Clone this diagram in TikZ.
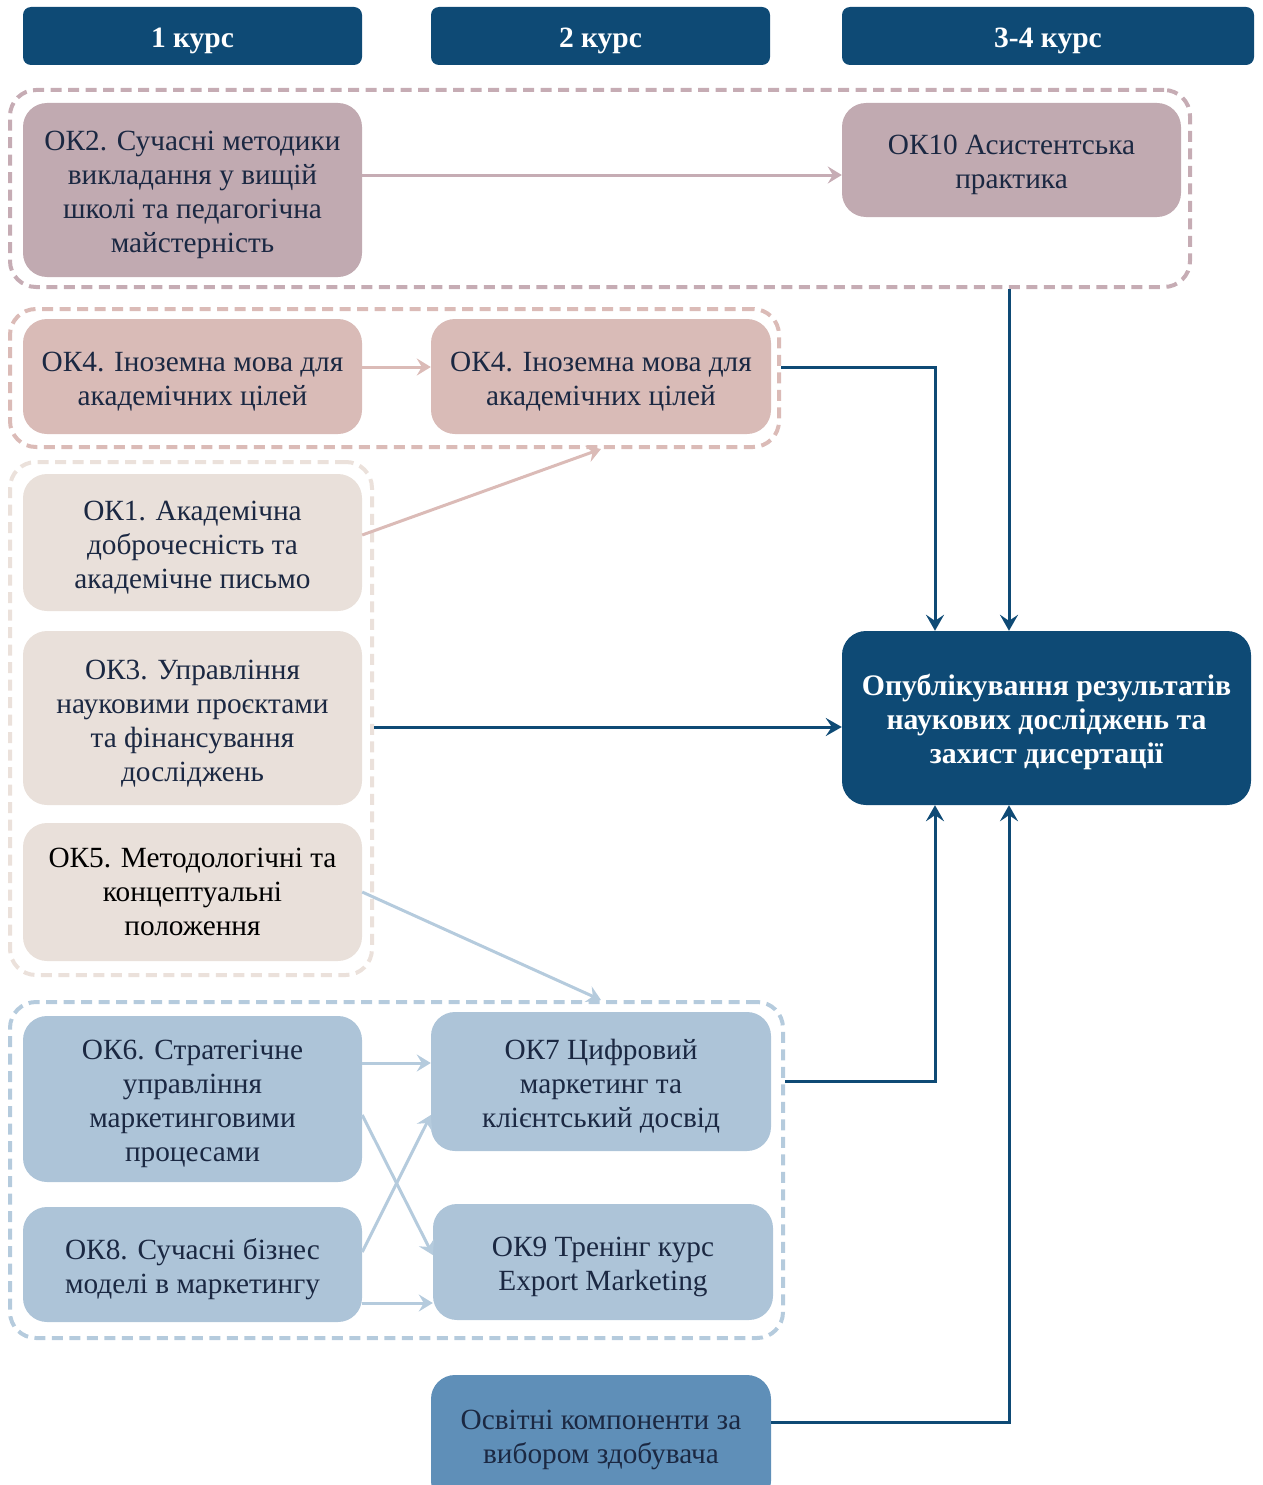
\documentclass[tikz,border=0pt]{standalone}
\usepackage{fontspec}
\setmainfont{Liberation Serif}
\usetikzlibrary{arrows.meta}
\definecolor{navy}{RGB}{14,74,117}
\definecolor{inktext}{RGB}{27,40,66}
\definecolor{mauvefill}{RGB}{193,170,177}
\definecolor{mauveline}{RGB}{198,172,180}
\definecolor{pinkfill}{RGB}{217,187,183}
\definecolor{pinkline}{RGB}{219,187,183}
\definecolor{beigefill}{RGB}{233,224,218}
\definecolor{beigeline}{RGB}{235,225,219}
\definecolor{bluefill}{RGB}{173,196,216}
\definecolor{blueline}{RGB}{181,203,221}
\definecolor{optfill}{RGB}{95,143,184}
\newcommand{\okstrut}{\rule{0pt}{30pt}}
\tikzset{
	course/.style={fill=navy,rounded corners=8pt,minimum height=58pt,text=white,font=\fontsize{29.5}{34}\selectfont\bfseries,inner sep=0pt,text height=30pt,text depth=6pt},
	okbox/.style={fill=#1,rounded corners=24pt,minimum width=339pt,text=inktext,align=center,font=\fontsize{29.3}{34}\selectfont,inner sep=0pt},
	grp/.style={draw=#1,line width=4pt,dash pattern=on 11pt off 6.5pt,rounded corners=26pt,inner sep=0pt},
	link/.style={draw=#1,line width=3pt,-{Stealth[length=14pt,width=17pt,inset=5pt]}},
	mainlink/.style={draw=navy,line width=3pt,-{Stealth[length=16pt,width=18pt,inset=6pt]}}
}
\begin{document}
\begin{tikzpicture}[x=1pt,y=-1pt]
			\useasboundingbox (0,0) rectangle (1262,1485);
			\node[course,minimum width=339pt] (hdrA) at (192.5,36) {1 курс};
			\node[course,minimum width=339pt] (hdrB) at (600.5,36) {2 курс};
			\node[course,minimum width=412pt] (hdrC) at (1048,36) {3-4 курс};
			\node[grp=mauveline,minimum width=1180pt,minimum height=197pt] (g1) at (600,188.5) {};
			\node[grp=pinkline,minimum width=769pt,minimum height=138pt] (g2) at (394.5,378) {};
			\node[grp=beigeline,minimum width=362pt,minimum height=513pt] (g3) at (191,718.5) {};
			\node[grp=blueline,minimum width=773pt,minimum height=336pt] (g4) at (396.5,1170) {};
			\node[okbox=mauvefill,minimum height=174pt] (ok2) at (192.5,190) {\okstrut ОК2. Сучасні методики\\викладання у вищій\\школі та педагогічна\\майстерність};
			\node[okbox=mauvefill,minimum height=114pt] (ok10) at (1011.5,160) {\okstrut ОК10 Асистентська\\практика};
			\node[okbox=pinkfill,minimum height=115pt] (ok4a) at (192.5,376.5) {\okstrut ОК4. Іноземна мова для\\академічних цілей};
			\node[okbox=pinkfill,minimum width=340pt,minimum height=115pt] (ok4b) at (601,376.5) {\okstrut ОК4. Іноземна мова для\\академічних цілей};
			\node[okbox=beigefill,minimum height=137pt] (ok1) at (192.5,542.5) {\okstrut ОК1. Академічна\\доброчесність та\\академічне письмо};
			\node[okbox=beigefill,minimum height=174pt] (ok3) at (192.5,718) {\okstrut ОК3. Управління\\науковими проєктами\\та фінансування\\досліджень};
			\node[okbox=beigefill,minimum height=138pt,text=black] (ok5) at (192.5,892) {ОК5. Методологічні та\\концептуальні\\положення};
			\node[okbox=bluefill,minimum height=166pt] (ok6) at (192.5,1099) {\okstrut ОК6. Стратегічне\\управління\\маркетинговими\\процесами};
			\node[okbox=bluefill,minimum height=115pt] (ok8) at (192.5,1264.5) {\okstrut ОК8. Сучасні бізнес\\моделі в маркетингу};
			\node[okbox=bluefill,minimum width=340pt,minimum height=139pt] (ok7) at (601,1081.5) {\okstrut ОК7 Цифровий\\маркетинг та\\клієнтський досвід};
			\node[okbox=bluefill,minimum width=340pt,minimum height=116pt] (ok9) at (603,1262) {\okstrut ОК9 Тренінг курс\\Export Marketing};
			\node[okbox=navy,minimum width=409pt,minimum height=174pt,text=white,font=\fontsize{29.8}{34}\selectfont\bfseries] (pub) at (1046.5,718) {\okstrut Опублікування результатів\\наукових досліджень та\\захист дисертації};
			\node[okbox=optfill,minimum width=340pt,minimum height=130pt] (opt) at (601,1440) {Освітні компоненти за\\вибором здобувача};
			\coordinate (colA) at (935,0);
			\coordinate (colB) at (1009,0);
			\draw[link=mauveline] ([yshift=15pt]ok2.east) -- ([yshift=-15pt]ok10.west);
			\draw[link=pinkline] ([yshift=9.5pt]ok4a.east) -- ([yshift=9.5pt]ok4b.west);
			\draw[link=pinkline] ([yshift=7.5pt]ok1.east) -- (g2.south -| ok4b);
			\draw[link=blueline] (ok5.east) -- (g4.north -| ok7);
			\draw[link=blueline] ([yshift=36pt]ok6.east) -- ([yshift=18.5pt]ok7.west);
			\draw[link=blueline] ([yshift=-16pt]ok6.east) -- ([yshift=7pt]ok9.west);
			\draw[link=blueline] ([yshift=12.5pt]ok8.east) -- ([yshift=-33.5pt]ok7.west);
			\draw[link=blueline] ([yshift=-38.5pt]ok8.east) -- ([yshift=-41pt]ok9.west);
			\draw[mainlink] ([yshift=11pt]g2.east) -| (colA |- pub.north);
			\draw[mainlink] (colB |- g1.south) -- (colB |- pub.north);
			\draw[mainlink] ([yshift=-9pt]g3.east |- pub.west) -- ([yshift=-9pt]pub.west);
			\draw[mainlink] (g4.east |- ok7) -| (colA |- pub.south);
			\draw[mainlink] ([yshift=18pt]opt.east) -| (colB |- pub.south);
		\end{tikzpicture}
\end{document}
